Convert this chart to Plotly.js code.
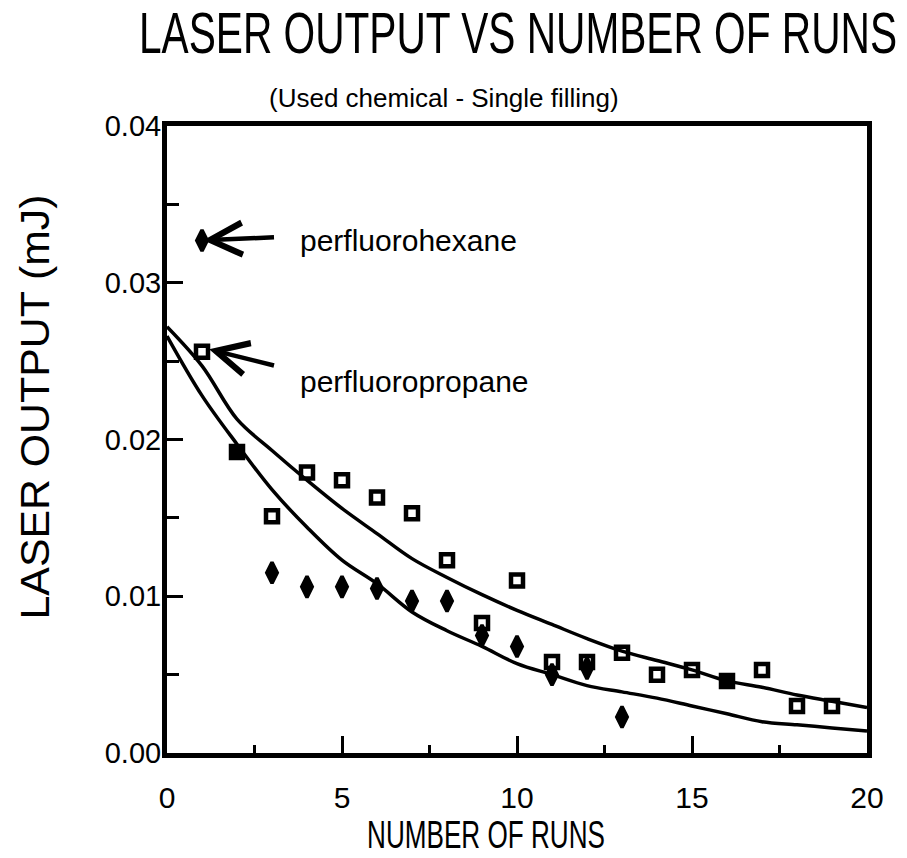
<!DOCTYPE html>
<html>
<head>
<meta charset="utf-8">
<script src="https://cdn.plot.ly/plotly-3.0.1.min.js"></script>
<style>html,body{margin:0;padding:0;background:#fff;}#chart{width:907px;height:858px;}</style>
</head>
<body>
<div id="chart"></div>
<script>
// Measured points: perfluoropropane (open squares)
var propaneX = [1, 2, 3, 4, 5, 6, 7, 8, 9, 10, 11, 12, 13, 14, 15, 16, 17, 18, 19];
var propaneY = [0.0256, 0.0192, 0.0151, 0.0179, 0.0174, 0.0163, 0.0153, 0.0123, 0.0083, 0.0110, 0.0058, 0.0058, 0.0064, 0.0050, 0.0053, 0.0046, 0.0053, 0.0030, 0.0030];
// Measured points: perfluorohexane (filled diamonds)
var hexaneX = [1, 3, 4, 5, 6, 7, 8, 9, 10, 11, 12, 13];
var hexaneY = [0.0327, 0.0115, 0.0106, 0.0106, 0.0105, 0.0097, 0.0097, 0.0075, 0.0068, 0.0050, 0.0054, 0.0023];
// Fitted curves
var fitX = [0, 1, 2, 3, 4, 5, 6, 7, 8, 9, 10, 11, 12, 13, 14, 15, 16, 17, 18, 19, 20];
var propaneFit = [0.0272, 0.0247, 0.0213, 0.0193, 0.0174, 0.0156, 0.0140, 0.0124, 0.0112, 0.0101, 0.0091, 0.0082, 0.0073, 0.0065, 0.0059, 0.0053, 0.0046, 0.0042, 0.0037, 0.0033, 0.0029];
var hexaneFit = [0.0266, 0.0228, 0.0197, 0.0168, 0.0144, 0.0123, 0.0108, 0.0090, 0.0078, 0.0068, 0.0057, 0.0050, 0.0043, 0.0039, 0.0035, 0.0030, 0.0025, 0.0020, 0.0018, 0.0016, 0.0014];
var xTickVals = [0, 5, 10, 15, 20];
var xTickText = ['0', '5', '10', '15', '20'];
var yTickVals = [0, 0.01, 0.02, 0.03, 0.04];
var yTickText = ['0.00', '0.01', '0.02', '0.03', '0.04'];

var FONT = 'Liberation Sans, Arial, Helvetica, sans-serif';

var filled = [2, 16];
var traces = [
  {x: fitX, y: propaneFit, mode: 'lines', line: {color: '#000', width: 3.5, shape: 'spline'}, hoverinfo: 'skip'},
  {x: fitX, y: hexaneFit, mode: 'lines', line: {color: '#000', width: 3.5, shape: 'spline'}, hoverinfo: 'skip'},
  {x: hexaneX, y: hexaneY, mode: 'markers', marker: {symbol: 'diamond-tall', size: 15, color: '#000', line: {color: '#000', width: 3.5}}},
  {x: propaneX, y: propaneY, mode: 'markers',
   marker: {symbol: propaneX.map(function(v){ return filled.indexOf(v) >= 0 ? 'square' : 'square-open'; }),
            size: 12, color: '#000', line: {color: '#000', width: 4.5}}}
];

var layout = {
  width: 907, height: 858,
  margin: {l: 167, r: 40, t: 126, b: 105},
  paper_bgcolor: '#fff', plot_bgcolor: '#fff',
  showlegend: false,
  font: {family: FONT, color: '#000'},
  title: {text: 'LASER OUTPUT VS NUMBER OF RUNS', x: 518/907, xanchor: 'center', xref: 'container',
          y: 1 - 33/858, yanchor: 'middle', yref: 'container',
          font: {family: FONT, size: 57, color: '#000'}},
  xaxis: {
    range: [0, 20], tickvals: xTickVals, ticktext: xTickText,
    ticks: 'inside', ticklen: 17, tickwidth: 3, tickcolor: '#000',
    minor: {dtick: 2.5, ticks: 'inside', ticklen: 8, tickwidth: 3, tickcolor: '#000'},
    showline: true, linewidth: 5, linecolor: '#000', mirror: true,
    showgrid: false, zeroline: false,
    tickfont: {family: FONT, size: 30, color: '#000'},
    ticklabelstandoff: 14,
    title: {text: 'NUMBER OF RUNS', font: {family: FONT, size: 38, color: '#000'}, standoff: 8}
  },
  yaxis: {
    range: [0, 0.04], tickvals: yTickVals, ticktext: yTickText,
    ticks: 'inside', ticklen: 16, tickwidth: 3, tickcolor: '#000',
    minor: {dtick: 0.005, ticks: 'inside', ticklen: 12, tickwidth: 3, tickcolor: '#000'},
    showline: true, linewidth: 5, linecolor: '#000', mirror: true,
    showgrid: false, zeroline: false,
    tickfont: {family: FONT, size: 29, color: '#000'},
    ticklabelstandoff: -5,
    title: {text: 'LASER OUTPUT (mJ)', font: {family: FONT, size: 40, color: '#000'}, standoff: 14}
  },
  annotations: [
    {xref: 'paper', yref: 'paper', x: 0.396, y: 1.0447, xanchor: 'center', yanchor: 'middle',
     text: '(Used chemical - Single filling)', showarrow: false, font: {family: FONT, size: 26, color: '#000'}},
    {x: 0.95, y: 0.0327, ax: 3.1, ay: 0.0329, xref: 'x', yref: 'y', axref: 'x', ayref: 'y',
     text: '', showarrow: true, arrowhead: 5, arrowsize: 1.4, arrowwidth: 4.5, arrowcolor: '#000', standoff: 3},
    {x: 1.12, y: 0.0258, ax: 3.1, ay: 0.0247, xref: 'x', yref: 'y', axref: 'x', ayref: 'y',
     text: '', showarrow: true, arrowhead: 5, arrowsize: 1.4, arrowwidth: 4.5, arrowcolor: '#000', standoff: 3},
    {x: 3.75, y: 0.0327, xref: 'x', yref: 'y', xanchor: 'left', yanchor: 'middle',
     text: 'perfluorohexane', showarrow: false, font: {family: FONT, size: 30, color: '#000'}},
    {x: 3.75, y: 0.0237, xref: 'x', yref: 'y', xanchor: 'left', yanchor: 'middle',
     text: 'perfluoropropane', showarrow: false, font: {family: FONT, size: 30, color: '#000'}}
  ]
};

// squeeze a text element horizontally (or vertically for rotated text) to a target extent, centred on a point
function condense(el, targetW, targetH, cx, cy) {
  if (!el) return;
  var tr = el.getAttribute('transform') || '';
  var bb = el.getBoundingClientRect();
  var ocx = bb.left + bb.width / 2, ocy = bb.top + bb.height / 2;
  var sx = targetW ? targetW / bb.width : 1;
  var sy = targetH ? targetH / bb.height : 1;
  el.setAttribute('transform',
    'translate(' + cx + ',' + cy + ') scale(' + sx + ',' + sy + ') translate(' + (-ocx) + ',' + (-ocy) + ') ' + tr);
}

Plotly.newPlot('chart', traces, layout, {displayModeBar: false, staticPlot: true}).then(function (gd) {
  var svgRect = gd.querySelector('svg.main-svg').getBoundingClientRect();
  var t = gd.querySelector('text.gtitle');
  if (t) { var b = t.getBoundingClientRect(); condense(t, 758, null, 518, b.top + b.height / 2 - svgRect.top); }
  var xt = gd.querySelector('text.xtitle');
  if (xt) { var b2 = xt.getBoundingClientRect(); condense(xt, 238, null, 486, b2.top + b2.height / 2 - svgRect.top); }
  var yt = gd.querySelector('text.ytitle');
  if (yt) { condense(yt, null, 425, 35, 407); }
});
</script>
</body>
</html>
